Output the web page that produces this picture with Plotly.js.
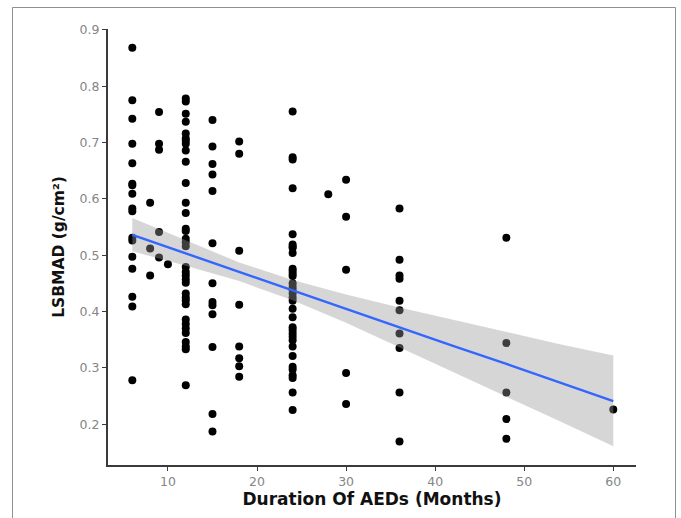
<!DOCTYPE html>
<html>
<head>
<meta charset="utf-8">
<script src="https://cdn.plot.ly/plotly-3.0.1.min.js"></script>
<style>
  html, body { margin: 0; padding: 0; background: #fff; }
  #chart { width: 681px; height: 518px; }
</style>
</head>
<body>
<div id="chart"></div>
<script>
// Duration of AEDs (months) groups and LSBMAD values
const months = [6, 8, 9, 10, 12, 15, 18, 24, 28, 30, 36, 48, 60];
const lsbmad6 = [0.868, 0.775, 0.742, 0.698, 0.663, 0.627, 0.624, 0.609, 0.583, 0.578, 0.531, 0.526, 0.497, 0.476, 0.426, 0.409, 0.278];
const lsbmad8 = [0.593, 0.512, 0.464];
const lsbmad9 = [0.754, 0.698, 0.687, 0.541, 0.496];
const lsbmad10 = [0.484];
const lsbmad12 = [0.778, 0.773, 0.751, 0.737, 0.716, 0.707, 0.703, 0.698, 0.686, 0.666, 0.628, 0.593, 0.575, 0.547, 0.543, 0.529, 0.523, 0.516, 0.479, 0.470, 0.464, 0.457, 0.451, 0.432, 0.425, 0.420, 0.413, 0.386, 0.378, 0.370, 0.362, 0.346, 0.338, 0.333, 0.269];
const lsbmad15 = [0.740, 0.693, 0.662, 0.643, 0.614, 0.521, 0.450, 0.417, 0.411, 0.395, 0.337, 0.218, 0.187];
const lsbmad18 = [0.702, 0.680, 0.508, 0.412, 0.338, 0.317, 0.303, 0.284];
const lsbmad24 = [0.755, 0.674, 0.670, 0.619, 0.537, 0.519, 0.515, 0.513, 0.504, 0.476, 0.472, 0.467, 0.463, 0.450, 0.444, 0.438, 0.432, 0.425, 0.419, 0.405, 0.390, 0.372, 0.367, 0.361, 0.355, 0.349, 0.338, 0.321, 0.302, 0.297, 0.287, 0.282, 0.256, 0.225];
const lsbmad28 = [0.608];
const lsbmad30 = [0.634, 0.568, 0.474, 0.291, 0.236];
const lsbmad36 = [0.583, 0.492, 0.464, 0.458, 0.419, 0.402, 0.361, 0.335, 0.256, 0.169];
const lsbmad48 = [0.531, 0.344, 0.256, 0.209, 0.174];
const lsbmad60 = [0.226];

// Linear fit and its confidence band
const fitX = [6, 12, 18, 24, 30, 36, 42, 48, 54, 60];
const fitY = [0.536, 0.503, 0.471, 0.438, 0.405, 0.372, 0.339, 0.307, 0.274, 0.241];
const bandUpper = [0.566, 0.526, 0.487, 0.456, 0.430, 0.407, 0.385, 0.364, 0.342, 0.322];
const bandLower = [0.507, 0.481, 0.454, 0.420, 0.380, 0.337, 0.293, 0.249, 0.205, 0.161];

// Tick labels
const xTicks = [10, 20, 30, 40, 50, 60];
const yTicks = [0.2, 0.3, 0.4, 0.5, 0.6, 0.7, 0.8, 0.9];

const groups = [lsbmad6, lsbmad8, lsbmad9, lsbmad10, lsbmad12, lsbmad15, lsbmad18, lsbmad24, lsbmad28, lsbmad30, lsbmad36, lsbmad48, lsbmad60];
const px = [], py = [];
groups.forEach((vals, i) => vals.forEach(v => { px.push(months[i]); py.push(v); }));

const points = {
  type: 'scatter', mode: 'markers', x: px, y: py,
  marker: { color: '#000000', size: 8 },
  hoverinfo: 'skip', showlegend: false
};
const band = {
  type: 'scatter', mode: 'lines',
  x: fitX.concat(fitX.slice().reverse()),
  y: bandUpper.concat(bandLower.slice().reverse()),
  fill: 'toself', fillcolor: 'rgba(153,153,153,0.4)',
  line: { width: 0, color: 'rgba(0,0,0,0)' },
  hoverinfo: 'skip', showlegend: false
};
const fit = {
  type: 'scatter', mode: 'lines', x: fitX, y: fitY,
  line: { color: '#3366FF', width: 2.4 },
  hoverinfo: 'skip', showlegend: false
};

const layout = {
  width: 681, height: 518,
  margin: { l: 108, r: 45, t: 29, b: 53 },
  paper_bgcolor: '#ffffff', plot_bgcolor: '#ffffff',
  font: { family: 'DejaVu Sans, sans-serif', color: '#000' },
  xaxis: {
    range: [3.27, 62.55], tickvals: xTicks, ticktext: xTicks.map(String),
    showgrid: false, zeroline: false,
    showline: true, linecolor: '#3a3a3a', linewidth: 2,
    ticks: 'outside', ticklen: 4, tickwidth: 1, tickcolor: '#3a3a3a',
    tickfont: { size: 12.5, color: '#858585' },
    title: { text: 'Duration Of AEDs (Months)', font: { size: 17, color: '#111', weight: 'bold' }, standoff: 5 },
    automargin: false
  },
  yaxis: {
    range: [0.1275, 0.9015], tickvals: yTicks, ticktext: yTicks.map(v => v.toFixed(1)),
    showgrid: false, zeroline: false,
    showline: true, linecolor: '#3a3a3a', linewidth: 2,
    ticks: 'outside', ticklen: 4, tickwidth: 1, tickcolor: '#3a3a3a',
    tickfont: { size: 12.5, color: '#858585' },
    title: { text: 'LSBMAD (g/cm²)', font: { size: 15.5, color: '#111', weight: 'bold' }, standoff: 11 },
    automargin: false
  },
  shapes: [{
    type: 'rect', xref: 'paper', yref: 'paper',
    x0: -0.1809, x1: 1.0748, y0: -0.149, y1: 1.0493,
    line: { color: '#8f8f8f', width: 1 }, fillcolor: 'rgba(0,0,0,0)', layer: 'below'
  }]
};

Plotly.newPlot('chart', [points, band, fit], layout, { displayModeBar: false, staticPlot: true });
</script>
</body>
</html>
